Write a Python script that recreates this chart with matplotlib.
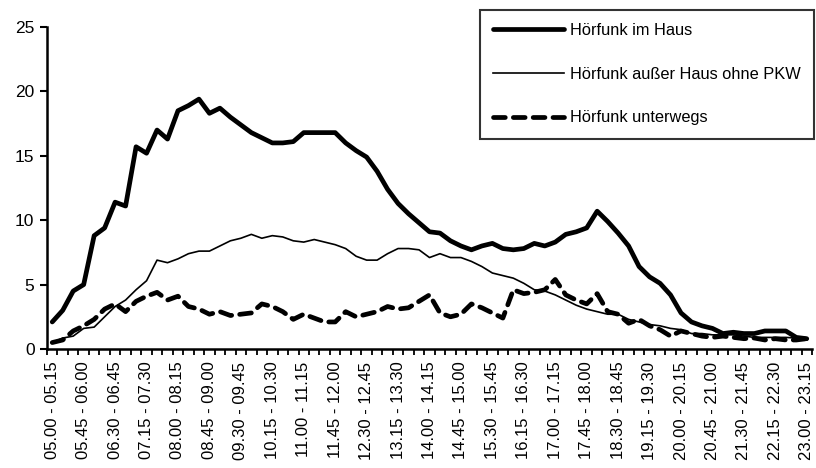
import numpy as np
import matplotlib.pyplot as plt

plt.rcParams['font.family'] = ['Liberation Sans', 'DejaVu Sans']

# 15-Minuten-Intervalle 05.00 - 23.15
starts = [f'{h:02d}.{m:02d}' for h in range(5, 24) for m in (0, 15, 30, 45)][:73]
ends = [f'{h:02d}.{m:02d}' for h in range(5, 24) for m in (15, 30, 45, 0)]
ends = [f'{int(e[:2]) + (1 if e.endswith("00") else 0):02d}{e[2:]}' for e in ends][:73]
slots = [f'{s} - {e}' for s, e in zip(starts, ends)]

im_haus = [2.1, 3.0, 4.5, 5.0, 8.8, 9.4, 11.4, 11.1, 15.7, 15.2,
           17.0, 16.3, 18.5, 18.9, 19.4, 18.3, 18.7, 18.0, 17.4, 16.8,
           16.4, 16.0, 16.0, 16.1, 16.8, 16.8, 16.8, 16.8, 16.0, 15.4,
           14.9, 13.8, 12.4, 11.3, 10.5, 9.8, 9.1, 9.0, 8.4, 8.0,
           7.7, 8.0, 8.2, 7.8, 7.7, 7.8, 8.2, 8.0, 8.3, 8.9,
           9.1, 9.4, 10.7, 9.9, 9.0, 8.0, 6.4, 5.6, 5.1, 4.2,
           2.8, 2.1, 1.8, 1.6, 1.2, 1.3, 1.2, 1.2, 1.4, 1.4,
           1.4, 0.9, 0.8]

ausser_haus = [0.5, 0.85, 1.0, 1.6, 1.7, 2.5, 3.3, 3.8, 4.6, 5.3,
               6.9, 6.7, 7.0, 7.4, 7.6, 7.6, 8.0, 8.4, 8.6, 8.9,
               8.6, 8.8, 8.7, 8.4, 8.3, 8.5, 8.3, 8.1, 7.8, 7.2,
               6.9, 6.9, 7.4, 7.8, 7.8, 7.7, 7.1, 7.4, 7.1, 7.1,
               6.8, 6.4, 5.9, 5.7, 5.5, 5.1, 4.6, 4.5, 4.2, 3.8,
               3.4, 3.1, 2.9, 2.7, 2.7, 2.3, 2.1, 1.9, 1.8, 1.6,
               1.5, 1.2, 1.2, 1.1, 1.1, 1.1, 1.0, 0.9, 0.9, 0.9,
               0.9, 0.85, 0.7]

unterwegs = [0.5, 0.7, 1.4, 1.8, 2.3, 3.1, 3.5, 2.9, 3.7, 4.1,
             4.4, 3.8, 4.1, 3.3, 3.1, 2.7, 2.9, 2.6, 2.7, 2.8,
             3.5, 3.3, 2.9, 2.3, 2.7, 2.4, 2.1, 2.1, 2.9, 2.5,
             2.7, 2.9, 3.3, 3.1, 3.2, 3.7, 4.2, 2.8, 2.5, 2.7,
             3.5, 3.2, 2.8, 2.4, 4.6, 4.3, 4.4, 4.6, 5.4, 4.2,
             3.8, 3.5, 4.3, 2.9, 2.7, 2.0, 2.3, 1.8, 1.5, 1.0,
             1.4, 1.2, 1.0, 0.9, 1.0, 0.9, 0.8, 0.85, 0.7, 0.8,
             0.7, 0.7, 0.8]

x = np.arange(len(slots))

fig = plt.figure(figsize=(8.16, 4.68), dpi=100)
ax = fig.add_axes([47 / 816, 119 / 468, 765 / 816, 322 / 468])

ax.plot(x, im_haus, color='black', lw=3.4, solid_joinstyle='round',
        solid_capstyle='round', label='Hörfunk im Haus')
ax.plot(x, ausser_haus, color='black', lw=1.2, label='Hörfunk außer Haus ohne PKW')
ax.plot(x, unterwegs, color='black', lw=3.4, dashes=(2.5, 1.7),
        dash_capstyle='round', label='Hörfunk unterwegs')

ax.set_xlim(-0.5, len(slots) - 0.5)
ax.set_ylim(0, 25)
ax.set_yticks(range(0, 26, 5))

ax.set_xticks(x[::3])
ax.set_xticklabels(slots[::3], rotation=90)
ax.set_xticks(np.arange(-0.5, len(slots), 1), minor=True)
ax.tick_params(axis='x', which='major', length=0, pad=9, labelsize=12)
ax.tick_params(axis='x', which='minor', length=4, width=1.3, direction='out')
ax.tick_params(axis='y', length=5, width=1.5, labelsize=12.5, pad=4)

for s in ['top', 'right']:
    ax.spines[s].set_visible(False)
for s in ['left', 'bottom']:
    ax.spines[s].set_linewidth(1.8)

leg = fig.legend(loc='upper right', bbox_to_anchor=(814 / 816, 1 - 10 / 468),
                 fontsize=11.8, frameon=True, fancybox=False, borderaxespad=0,
                 handlelength=4.3, handletextpad=0.4, labelspacing=1.75,
                 borderpad=0.8)
leg.get_frame().set_edgecolor('black')
leg.get_frame().set_linewidth(1.5)

fig.savefig('out.png', dpi=100)
